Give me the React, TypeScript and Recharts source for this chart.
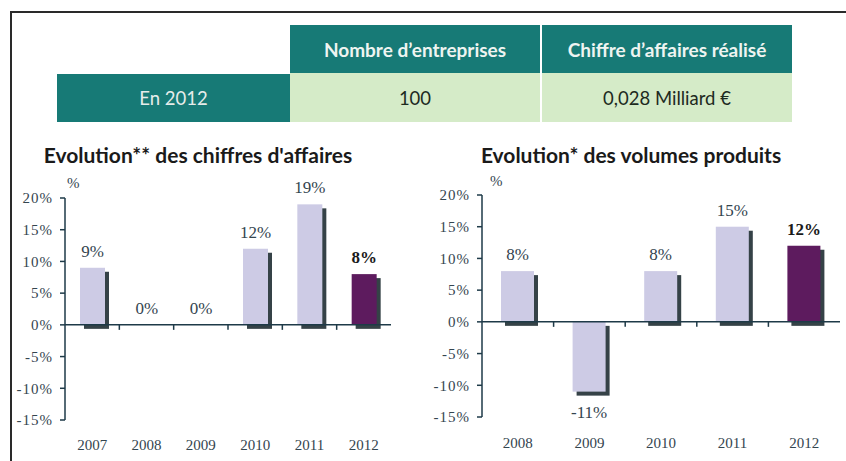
import React from 'react';
import { BarChart, Bar, XAxis, YAxis, ReferenceLine, Cell, LabelList } from 'recharts';

// ---- data ----
const CA_YEARS = ['2007', '2008', '2009', '2010', '2011', '2012'];
const CA_VALUES = [9, 0, 0, 12, 19, 8];
const VOL_YEARS = ['2008', '2009', '2010', '2011', '2012'];
const VOL_VALUES = [8, -11, 8, 15, 12];
const Y_TICKS = [-15, -10, -5, 0, 5, 10, 15, 20];
const TABLE_HEADERS = ['Nombre d\u2019entreprises', 'Chiffre d\u2019affaires r\u00e9alis\u00e9'];
const TABLE_ROW_LABEL = 'En 2012';
const TABLE_ROW_VALUES = ['100', '0,028 Milliard \u20ac'];
const TITLE_CA = "Evolution** des chiffres d'affaires";
const TITLE_VOL = 'Evolution* des volumes produits';

// ---- styles ----
const TEAL = '#177a76';
const GREEN = '#d5ebc8';
const LIGHT_BAR = '#cdcbe5';
const DARK_BAR = '#5d1b5e';
const SHADOW = '#1f2d33';
const AXIS = '#1e3a48';
const SERIF_TEXT = '#34454f';
const SANS = 'Lato, "Open Sans", "Noto Sans", sans-serif';
const SERIF = '"Liberation Serif", "DejaVu Serif", serif';

const ShadowBar = (props: any) => {
  const { x, y, width, height, fill } = props;
  const top = Math.min(y, y + height);
  const h = Math.abs(height);
  if (!h || h < 0.5) return <g />;
  return (
    <g>
      <rect x={x + 4} y={top + 4} width={width} height={h} fill={SHADOW} opacity={0.9} />
      <rect x={x} y={top} width={width} height={h} fill={fill} />
    </g>
  );
};

const makeLabel = (lastIndex: number) => (props: any) => {
  const { x, y, width, height, value, index } = props;
  const top = Math.min(y, y + height);
  const bottom = Math.max(y, y + height);
  const cx = x + width / 2;
  const isLast = index === lastIndex;
  const ty = value >= 0 ? top - 11 : bottom + 26;
  return (
    <text
      x={cx}
      y={ty}
      textAnchor="middle"
      fontFamily={SERIF}
      fontSize={17}
      fontWeight={isLast ? 700 : 400}
      fill={isLast ? '#1a1a1a' : SERIF_TEXT}
    >
      {`${value}%`}
    </text>
  );
};

type ChartProps = {
  years: string[];
  values: number[];
  width: number;
  height: number;
  margin: { top: number; right: number; bottom: number; left: number };
  yAxisWidth: number;
  xAxisHeight: number;
  xTickMargin: number;
  barSize: number;
};

const EvolutionChart = ({ years, values, width, height, margin, yAxisWidth, xAxisHeight, xTickMargin, barSize }: ChartProps) => {
  const data = years.map((year, i) => ({ year, value: values[i] }));
  const lastIndex = data.length - 1;
  return (
    <BarChart width={width} height={height} data={data} margin={margin}>
      <XAxis
        dataKey="year"
        axisLine={false}
        tickLine={false}
        tickSize={0}
        tickMargin={xTickMargin}
        height={xAxisHeight}
        interval={0}
        tick={{ fontFamily: SERIF, fontSize: 15, fill: SERIF_TEXT }}
      />
      <YAxis
        domain={[-15, 20]}
        ticks={Y_TICKS}
        interval={0}
        width={yAxisWidth}
        tickFormatter={(v: number) => `${v}%`}
        axisLine={{ stroke: AXIS, strokeWidth: 1.5 }}
        tickLine={{ stroke: AXIS, strokeWidth: 1.5 }}
        tickSize={5}
        tickMargin={7}
        tick={{ fontFamily: SERIF, fontSize: 15, fill: SERIF_TEXT, letterSpacing: 1 }}
      />
      <Bar dataKey="value" barSize={barSize} isAnimationActive={false} shape={ShadowBar}>
        {data.map((d, i) => (
          <Cell key={d.year} fill={i === lastIndex ? DARK_BAR : LIGHT_BAR} />
        ))}
        <LabelList dataKey="value" content={makeLabel(lastIndex)} />
      </Bar>
      <ReferenceLine
        y={0}
        shape={(p: any) => {
          const { x1, y1, x2 } = p;
          const n = years.length;
          const step = (x2 - x1) / n;
          return (
            <g>
              <line x1={x1} y1={y1} x2={x2} y2={y1} stroke={AXIS} strokeWidth={1.5} />
              {Array.from({ length: n - 1 }, (_, i) => (
                <line
                  key={i}
                  x1={x1 + step * (i + 1)}
                  x2={x1 + step * (i + 1)}
                  y1={y1}
                  y2={y1 + 5}
                  stroke={AXIS}
                  strokeWidth={1.5}
                />
              ))}
            </g>
          );
        }}
      />
    </BarChart>
  );
};

const abs = (left: number, top: number, w: number, h: number): React.CSSProperties => ({
  position: 'absolute',
  left,
  top,
  width: w,
  height: h,
});

const cell = (bg: string, color: string, size: number, weight: number): React.CSSProperties => ({
  background: bg,
  color,
  fontFamily: SANS,
  fontWeight: weight,
  fontSize: size,
  display: 'flex',
  alignItems: 'center',
  justifyContent: 'center',
});

export default function App() {
  return (
    <div style={{ position: 'absolute', left: 0, top: 0, width: 846, height: 461, background: '#fff', overflow: 'hidden' }}>
      {/* frame */}
      <div style={{ ...abs(10, 11, 836, 2), background: '#2a2a2a' }} />
      <div style={{ ...abs(10, 11, 2, 450), background: '#2a2a2a' }} />

      {/* table */}
      <div style={{ ...abs(290, 25, 250, 48), ...cell(TEAL, '#eef4f1', 19, 700) }}>{TABLE_HEADERS[0]}</div>
      <div style={{ ...abs(542, 25, 250, 48), ...cell(TEAL, '#eef4f1', 19, 700) }}>{TABLE_HEADERS[1]}</div>
      <div style={{ ...abs(57, 74, 233, 48), ...cell(TEAL, '#e6ecea', 18.5, 400) }}>{TABLE_ROW_LABEL}</div>
      <div style={{ ...abs(290, 73, 250, 49), ...cell(GREEN, '#1d2a1f', 18.5, 400) }}>{TABLE_ROW_VALUES[0]}</div>
      <div style={{ ...abs(542, 73, 250, 49), ...cell(GREEN, '#1d2a1f', 18.5, 400) }}>{TABLE_ROW_VALUES[1]}</div>

      {/* titles */}
      <div style={{ ...abs(18, 142, 360, 26), fontFamily: SANS, fontWeight: 700, fontSize: 21, color: '#1a1a1a', textAlign: 'center', lineHeight: '26px' }}>
        {TITLE_CA}
      </div>
      <div style={{ ...abs(450, 142, 362, 26), fontFamily: SANS, fontWeight: 700, fontSize: 21, color: '#1a1a1a', textAlign: 'center', lineHeight: '26px' }}>
        {TITLE_VOL}
      </div>

      {/* unit labels */}
      <div style={{ ...abs(67, 175, 20, 18), fontFamily: SERIF, fontSize: 15, color: SERIF_TEXT }}>%</div>
      <div style={{ ...abs(490, 173, 20, 18), fontFamily: SERIF, fontSize: 15, color: SERIF_TEXT }}>%</div>

      {/* charts */}
      <div style={abs(0, 170, 420, 291)}>
        <EvolutionChart
          years={CA_YEARS}
          values={CA_VALUES}
          width={420}
          height={291}
          margin={{ top: 28, right: 29, bottom: 0, left: 0 }}
          yAxisWidth={65}
          xAxisHeight={41}
          xTickMargin={19}
          barSize={25}
        />
      </div>
      <div style={abs(420, 170, 426, 291)}>
        <EvolutionChart
          years={VOL_YEARS}
          values={VOL_VALUES}
          width={426}
          height={291}
          margin={{ top: 25, right: 6, bottom: 0, left: 0 }}
          yAxisWidth={62}
          xAxisHeight={44}
          xTickMargin={20}
          barSize={33}
        />
      </div>
    </div>
  );
}
